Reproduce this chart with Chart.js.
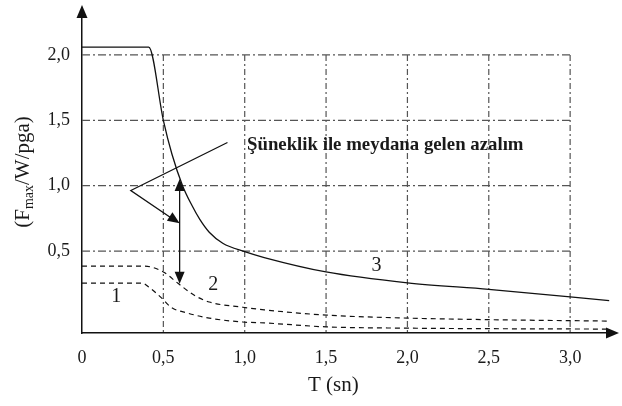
<!DOCTYPE html>
<html>
<head>
<meta charset="utf-8">
<script src="https://cdn.jsdelivr.net/npm/chart.js@4.4.0/dist/chart.umd.min.js"></script>
<style>
  html, body { margin: 0; padding: 0; background: #fff; }
  #wrap { width: 622px; height: 406px; }
</style>
</head>
<body>
<div id="wrap"><canvas id="chart"></canvas></div>
<script>
// ---- data ----
const X_TICKS = [0, 0.5, 1.0, 1.5, 2.0, 2.5, 3.0];
const Y_TICKS = [0.5, 1.0, 1.5, 2.0];

// curve 3 (solid, elastic)
const T_CURVE3 = [0, 0.41, 0.5, 0.553, 0.618, 0.676, 0.724, 0.782, 0.865, 1.0, 1.12, 1.5, 2.0, 2.5, 3.0, 3.24];
const F_CURVE3 = [2.06, 2.06, 1.5, 1.24, 1.0, 0.848, 0.742, 0.644, 0.56, 0.495, 0.45, 0.34, 0.257, 0.207, 0.15, 0.12];

// curve 2 (upper dashed)
const T_CURVE2 = [0, 0.38, 0.5, 0.588, 0.688, 0.782, 0.988, 1.12, 1.5, 2.0, 2.5, 3.24];
const F_CURVE2 = [0.385, 0.385, 0.34, 0.255, 0.163, 0.11, 0.07, 0.05, 0.01, -0.013, -0.025, -0.036];

// curve 1 (lower dashed)
const T_CURVE1 = [0, 0.37, 0.41, 0.49, 0.547, 0.647, 0.782, 0.988, 1.12, 1.5, 2.0, 2.5, 3.24];
const F_CURVE1 = [0.255, 0.255, 0.225, 0.14, 0.07, 0.026, -0.013, -0.043, -0.05, -0.08, -0.09, -0.094, -0.097];

const CURVE_LABELS = ["1", "2", "3"];
const LABEL_T = [0.21, 0.806, 1.81];
const LABEL_F = [0.147, 0.245, 0.39];

const NOTE_TEXT = "Şüneklik ile meydana gelen azalım";
const NOTE_AT = [1.014, 1.31];         // text left edge / middle
const POINTER_VERTEX = [0.30, 0.963];
const POINTER_LINE_END = [0.894, 1.33];
const POINTER_ARROW_TIP = [0.6, 0.713];
const DROP_T = 0.6;
const DROP_FROM = 1.05;
const DROP_TO = 0.25;
const X_TITLE_AT = 1.545;

const SERIF = '"Liberation Serif", "Times New Roman", serif';
const INK = "#1a1a1a";

function pts(ts, fs) {
  return ts.map((t, i) => ({ x: t, y: fs[i] }));
}

function fmt(v) {
  return v === 0 ? "0" : v.toFixed(1).replace(".", ",");
}

function arrowHead(ctx, x1, y1, x2, y2, len, half) {
  const a = Math.atan2(y2 - y1, x2 - x1);
  ctx.beginPath();
  ctx.moveTo(x2, y2);
  ctx.lineTo(x2 - len * Math.cos(a) + half * Math.sin(a), y2 - len * Math.sin(a) - half * Math.cos(a));
  ctx.lineTo(x2 - len * Math.cos(a) - half * Math.sin(a), y2 - len * Math.sin(a) + half * Math.cos(a));
  ctx.closePath();
  ctx.fill();
}

// dash-dot grid, only over the boxed part of the plot
const gridPlugin = {
  id: "dashDotGrid",
  beforeDatasetsDraw(chart) {
    const { ctx, scales: { x, y } } = chart;
    ctx.save();
    ctx.strokeStyle = "#555";
    ctx.lineWidth = 1.2;
    ctx.setLineDash([8, 3, 2, 3]);
    Y_TICKS.forEach(v => {
      ctx.beginPath();
      ctx.moveTo(x.getPixelForValue(0), y.getPixelForValue(v));
      ctx.lineTo(x.getPixelForValue(3.0), y.getPixelForValue(v));
      ctx.stroke();
    });
    ctx.setLineDash([6, 3, 2, 3]);
    X_TICKS.slice(1).forEach(v => {
      ctx.beginPath();
      ctx.moveTo(x.getPixelForValue(v), y.getPixelForValue(2.0));
      ctx.lineTo(x.getPixelForValue(v), y.bottom);
      ctx.stroke();
    });
    ctx.restore();
  }
};

// axis arrows, annotation arrows and texts
const decorPlugin = {
  id: "decor",
  afterDraw(chart) {
    const { ctx, chartArea: ca, scales: { x, y } } = chart;
    const px = v => x.getPixelForValue(v);
    const py = v => y.getPixelForValue(v);
    ctx.save();
    ctx.fillStyle = "#111";
    ctx.strokeStyle = "#111";

    // axis arrows
    ctx.lineWidth = 1.5;
    ctx.beginPath();
    ctx.moveTo(ca.left, ca.top);
    ctx.lineTo(ca.left, ca.top - 4);
    ctx.moveTo(ca.right, ca.bottom);
    ctx.lineTo(ca.right + 4, ca.bottom);
    ctx.stroke();
    arrowHead(ctx, ca.left, ca.bottom, ca.left, ca.top - 9, 13, 5.5);
    arrowHead(ctx, ca.left, ca.bottom, ca.right + 9, ca.bottom, 13, 5.5);

    // pointer lines
    ctx.lineWidth = 1.3;
    const vx = px(POINTER_VERTEX[0]), vy = py(POINTER_VERTEX[1]);
    const ex = px(POINTER_LINE_END[0]), ey = py(POINTER_LINE_END[1]);
    const ax = px(POINTER_ARROW_TIP[0]), ay = py(POINTER_ARROW_TIP[1]);
    ctx.beginPath();
    ctx.moveTo(ex, ey);
    ctx.lineTo(vx, vy);
    ctx.lineTo(ax - 8, ay - 5);
    ctx.stroke();
    arrowHead(ctx, vx, vy, ax, ay, 12, 5);

    // reduction double arrow
    const dx = px(DROP_T), dTop = py(DROP_FROM), dBot = py(DROP_TO);
    ctx.beginPath();
    ctx.moveTo(dx, dTop + 8);
    ctx.lineTo(dx, dBot - 8);
    ctx.stroke();
    arrowHead(ctx, dx, dBot, dx, dTop, 12, 5);
    arrowHead(ctx, dx, dTop, dx, dBot, 12, 5);

    // note text
    ctx.fillStyle = INK;
    ctx.font = "bold 18.8px " + SERIF;
    ctx.textBaseline = "middle";
    ctx.textAlign = "left";
    ctx.fillText(NOTE_TEXT, px(NOTE_AT[0]), py(NOTE_AT[1]));

    // curve numbers
    ctx.font = "20px " + SERIF;
    ctx.textAlign = "center";
    CURVE_LABELS.forEach((s, i) => ctx.fillText(s, px(LABEL_T[i]), py(LABEL_F[i])));

    // x title
    ctx.font = "21px " + SERIF;
    ctx.fillText("T (sn)", px(X_TITLE_AT), 385);

    // y title with subscript
    ctx.translate(22, 172);
    ctx.rotate(-Math.PI / 2);
    const big = "21px " + SERIF, small = "14px " + SERIF;
    ctx.font = big;
    const w1 = ctx.measureText("(F").width, w3 = ctx.measureText("/W/pga)").width;
    ctx.font = small;
    const w2 = ctx.measureText("max").width;
    let cx = -(w1 + w2 + w3) / 2;
    ctx.textAlign = "left";
    ctx.textBaseline = "alphabetic";
    ctx.font = big;
    ctx.fillText("(F", cx, 7);
    cx += w1;
    ctx.font = small;
    ctx.fillText("max", cx, 11);
    cx += w2;
    ctx.font = big;
    ctx.fillText("/W/pga)", cx, 7);
    ctx.restore();
  }
};

const common = { pointRadius: 0, borderColor: "#111", fill: false, cubicInterpolationMode: "monotone" };

new Chart(document.getElementById("chart"), {
  type: "line",
  data: {
    datasets: [
      { ...common, data: pts(T_CURVE3, F_CURVE3), borderWidth: 1.3 },
      { ...common, data: pts(T_CURVE2, F_CURVE2), borderWidth: 1.2, borderDash: [5, 4] },
      { ...common, data: pts(T_CURVE1, F_CURVE1), borderWidth: 1.2, borderDash: [5, 4] }
    ]
  },
  options: {
    responsive: true,
    maintainAspectRatio: false,
    animation: false,
    layout: { padding: { top: 14, right: 12, left: 0, bottom: 0 } },
    plugins: { legend: { display: false }, tooltip: { enabled: false } },
    scales: {
      x: {
        type: "linear",
        min: 0,
        max: 3.245,
        grid: { display: false, drawTicks: false },
        border: { display: true, color: "#111", width: 1.5 },
        afterBuildTicks: s => { s.ticks = X_TICKS.map(v => ({ value: v })); },
        afterFit: s => { s.height = 73; s.paddingLeft = 0; s.paddingRight = 0; },
        ticks: {
          padding: 14,
          color: INK,
          font: { family: SERIF, size: 18 },
          maxRotation: 0,
          callback: v => fmt(v)
        }
      },
      y: {
        type: "linear",
        min: -0.127,
        max: 2.313,
        grid: { display: false, drawTicks: false },
        border: { display: true, color: "#111", width: 1.5 },
        afterBuildTicks: s => { s.ticks = Y_TICKS.map(v => ({ value: v })); },
        afterFit: s => { s.width = 82; s.paddingTop = 0; s.paddingBottom = 0; },
        ticks: {
          padding: 12,
          color: INK,
          font: { family: SERIF, size: 18 },
          callback: v => fmt(v)
        }
      }
    }
  },
  plugins: [gridPlugin, decorPlugin]
});
</script>
</body>
</html>
